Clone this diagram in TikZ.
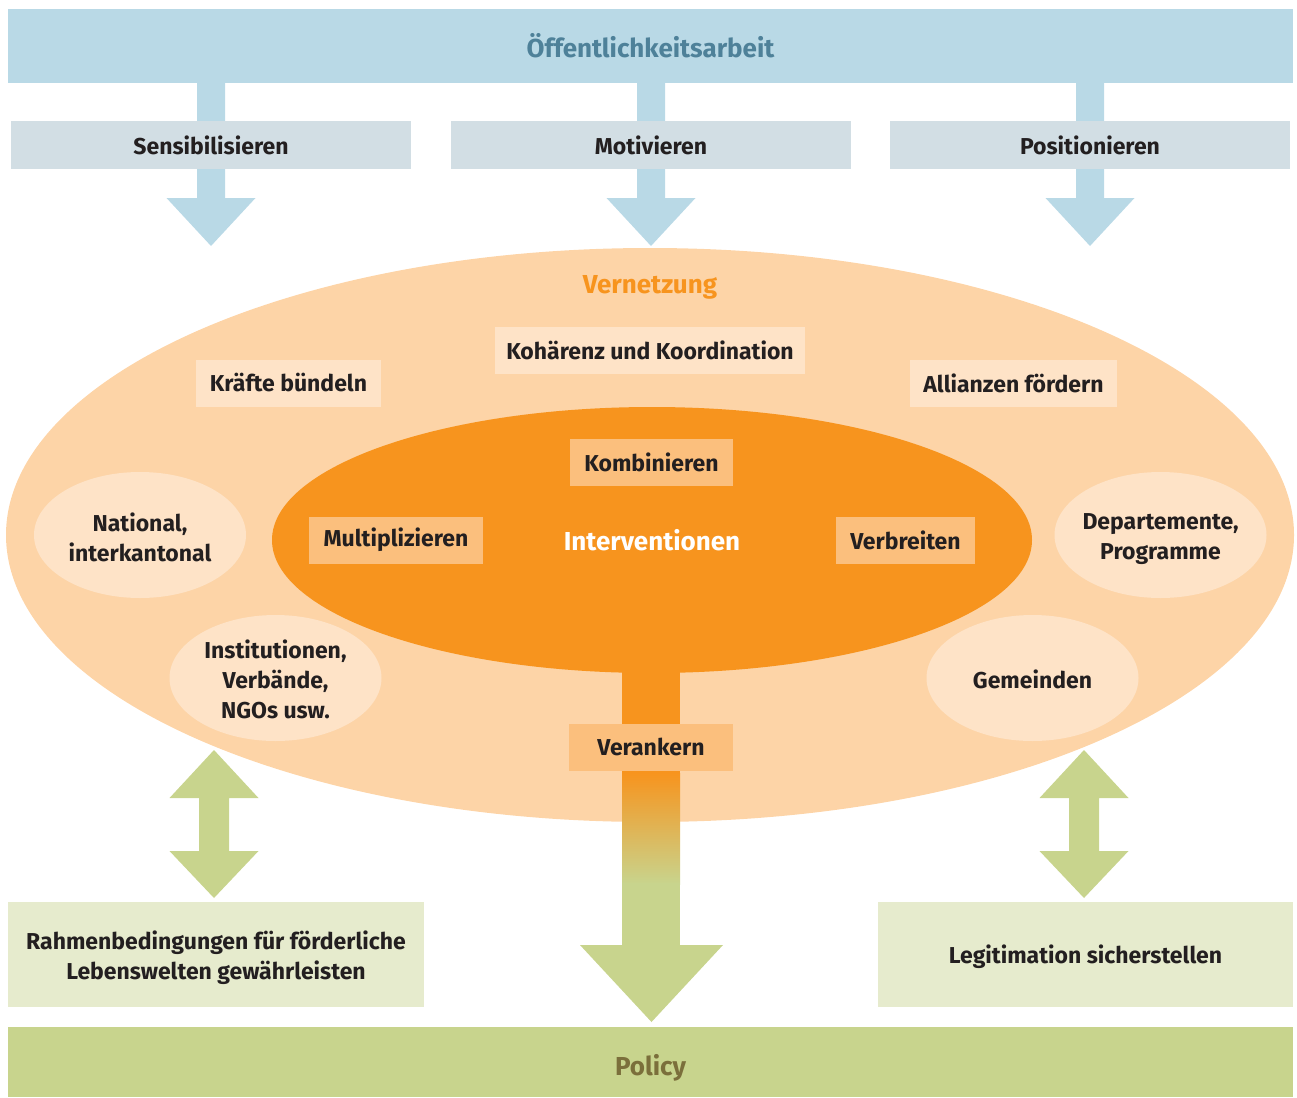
\documentclass[tikz,border=0pt]{standalone}
\usepackage{fontspec}
\setmainfont{Fira Sans}
\usetikzlibrary{shapes.geometric}
\definecolor{bar}{HTML}{B9D9E6}
\definecolor{barText}{HTML}{4E8199}
\definecolor{grayb}{HTML}{D2DEE4}
\definecolor{peach}{HTML}{FDD4A7}
\definecolor{lightpeach}{HTML}{FEE3C7}
\definecolor{orng}{HTML}{F7941E}
\definecolor{midor}{HTML}{FBBF7D}
\definecolor{grn}{HTML}{C8D48D}
\definecolor{lgrn}{HTML}{E6EBCD}
\definecolor{policyText}{HTML}{7B6F3B}
\definecolor{txt}{HTML}{231F20}
\pgfdeclarelayer{bg}
\pgfdeclarelayer{mid}
\pgfsetlayers{bg,mid,main}
\tikzset{
  lbl/.style={font=\fontsize{23}{30}\selectfont\bfseries, text=txt, align=center},
  bigtxt/.style={font=\fontsize{26}{30}\selectfont\bfseries},
  graybox/.style={lbl, fill=grayb, minimum width=400, minimum height=47, inner sep=0},
  lbox/.style={lbl, fill=lightpeach, minimum height=47, inner sep=0},
  obox/.style={lbl, fill=midor, minimum height=47, inner sep=0},
  sell/.style={ellipse, fill=lightpeach, minimum width=212, minimum height=126, inner sep=0},
  gbox/.style={fill=lgrn, minimum height=105, inner sep=0},
}
\begin{document}
\begin{tikzpicture}[x=1pt,y=-1pt]
\useasboundingbox (0,0) rectangle (1297,1097);

% top bar and gray boxes
\node[fill=bar, minimum width=1285, minimum height=74, inner sep=0, text=barText, bigtxt] (oeff) at (650.5,46) {Öffentlichkeitsarbeit};
\node[graybox] (sens) at (211,145) {Sensibilisieren};
\node[graybox] (moti) at (651,145) {Motivieren};
\node[graybox] (posi) at (1090,145) {Positionieren};

\begin{pgfonlayer}{bg}
  \foreach \c in {211,651,1090}{
    \fill[bar] (\c-14,80) -- (\c+14,80) -- (\c+14,198) -- (\c+44.5,198) -- (\c,246) -- (\c-44.5,198) -- (\c-14,198) -- cycle;
  }
  \node[ellipse, fill=peach, minimum width=1288, minimum height=574, inner sep=0] (vern) at (650,535) {};
\end{pgfonlayer}

\node[bigtxt, text=orng] (verntxt) at (650,287) {Vernetzung};
\node[lbox, minimum width=310] (koh) at (650,350) {Kohärenz und Koordination};
\node[lbox, minimum width=185] (kraefte) at (288.5,383) {Kräfte bündeln};
\node[lbox, minimum width=207] (allianz) at (1013.5,383) {Allianzen fördern};

\node[ellipse, fill=orng, minimum width=760, minimum height=266, inner sep=0, text=white, bigtxt] (inter) at (652,540) {Interventionen};
\node[obox, minimum width=163] (kombi) at (651.5,462) {Kombinieren};
\node[obox, minimum width=174] (multi) at (396,540) {Multiplizieren};
\node[obox, minimum width=139] (verbr) at (905.5,540) {Verbreiten};

\node[sell] (nat) at (140,535) {};
\node[lbl] (nattxt) at (140,537) {National,\\interkantonal};
\node[sell] (dep) at (1160.5,535) {};
\node[lbl] (deptxt) at (1160.5,539) {Departemente,\\Programme};
\node[sell] (inst) at (275.5,678) {};
\node[lbl] (insttxt) at (275.5,679.5) {Institutionen,\\Verbände,\\NGOs usw.};
\node[sell] (gem) at (1032.5,678) {};
\node[lbl] (gemtxt) at (1032.5,679.5) {Gemeinden};

% central stem
\begin{pgfonlayer}{mid}
  \fill[orng] (622,640) rectangle (680,774);
  \shade[top color=orng, bottom color=grn] (622,773) rectangle (680,884);
  \fill[grn] (622,883) rectangle (680,946);
  \fill[grn] (580,945) -- (723,945) -- (651.5,1022) -- cycle;
\end{pgfonlayer}
\node[obox, minimum width=164] (veran) at (651,747) {Verankern};

% bottom boxes
\node[gbox, minimum width=416] (rahmen) at (216,954.5) {};
\node[lbl] (rahmentxt) at (216,957.5) {Rahmenbedingungen für förderliche\\Lebenswelten gewährleisten};
\node[gbox, minimum width=415] (legit) at (1085.5,954.5) {};
\node[lbl] (legittxt) at (1085.5,957) {Legitimation sicherstellen};
\node[fill=grn, minimum width=1285, minimum height=70, inner sep=0] (policy) at (650.5,1062) {};
\node[bigtxt, text=policyText, yshift=-6pt] (policytxt) at (policy.center) {Policy};

% green double arrows
\foreach \c in {214,1084}{
  \fill[grn] (\c,750) -- (\c+44.5,798) -- (\c+15,798) -- (\c+15,851) -- (\c+44.5,851) -- (\c,898) -- (\c-44.5,851) -- (\c-15,851) -- (\c-15,798) -- (\c-44.5,798) -- cycle;
}
\end{tikzpicture}
\end{document}
